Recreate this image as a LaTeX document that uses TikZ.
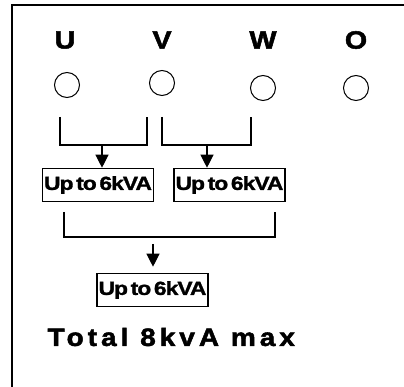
\documentclass[tikz,border=0pt]{standalone}
\usepackage{fontspec}
\setmainfont{Liberation Sans}
\newfontfamily\heavyfont{Liberation Sans Bold}[FakeBold=2, FakeStretch=1.15]
\newfontfamily\widefont{Liberation Sans Bold}[FakeBold=2, FakeStretch=1.12, LetterSpace=16]
\newfontfamily\tightfont{Liberation Sans Bold}[FakeBold=1.5, FakeStretch=1.2, LetterSpace=-5, WordSpace=0.5]
\usetikzlibrary{arrows.meta, positioning}

\begin{document}
\begin{tikzpicture}[
    x=1pt, y=-1pt,
    >={Triangle[length=13pt, width=13pt]},
    line width=1.2pt,
    phase/.style={inner sep=0pt, font=\fontsize{25}{25}\selectfont\heavyfont},
    term/.style={draw, circle, minimum size=25pt, inner sep=0pt, line width=1pt},
    load/.style={draw, rectangle, minimum width=111pt, minimum height=33pt, inner sep=0pt,
                 line width=1.6pt, font=\fontsize{19}{19}\selectfont\tightfont}
  ]
  \useasboundingbox (0,0) rectangle (404,387);
  % --- marco ---
  \draw[line width=1.8pt] (12,387) -- (12,5) -- (404,5);

  % --- bornes ---
  \node[phase] (labU) at (65,40)  {U};
  \node[phase] (labV) at (162,40) {V};
  \node[phase] (labW) at (263,40) {W};
  \node[phase] (labO) at (356,40) {O};
  \node[term] (termU) at (67,85)  {};
  \node[term] (termV) at (162,83) {};
  \node[term] (termW) at (263,88) {};
  \node[term] (termO) at (356,88) {};

  % --- cargas ---
  \node[load] (loadUV)  at (98,185)    {Up to 6kVA};
  \node[load] (loadVW)  at (229.5,185) {Up to 6kVA};
  \node[load] (loadAll) at (152.5,290) {Up to 6kVA};
  \node[anchor=west, inner sep=0pt, font=\fontsize{25}{25}\selectfont\widefont]
    (total) at (47,337) {Total 8kvA max};

  % --- corchetes ---
  \coordinate (uvL) at (60,117);
  \coordinate (uvR) at (147,117);
  \coordinate (uvM) at (102,145);
  \coordinate (vwL) at (162,117);
  \coordinate (vwR) at (251,117);
  \coordinate (vwM) at (207,145);
  \coordinate (allL) at (64,212);
  \coordinate (allR) at (275,212);
  \coordinate (allM) at (153,244);

  \draw (uvL) -- ++(0,28) -| (uvR);
  \draw (vwL) -- ++(0,28) -| (vwR);
  \draw (allL) -- ++(0,25) -| (allR);

  % --- flechas ---
  \draw[->] (uvM) -- (uvM |- loadUV.north);
  \draw[->] (vwM) -- (vwM |- loadVW.north);
  \draw[->] (allM) -- ([yshift=6pt]allM |- loadAll.north);
\end{tikzpicture}
\end{document}
